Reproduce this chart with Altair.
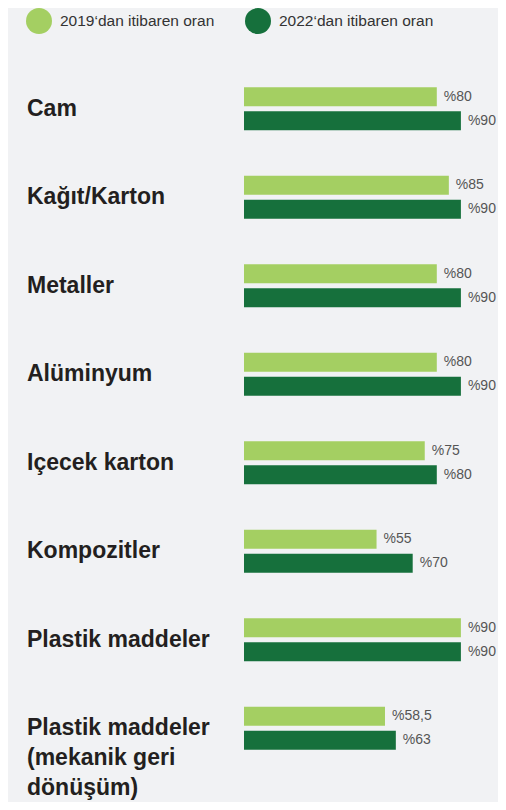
import altair as alt
import pandas as pd

categories = [
    "Cam",
    "Kağıt/Karton",
    "Metaller",
    "Alüminyum",
    "Içecek karton",
    "Kompozitler",
    "Plastik maddeler",
    "Plastik maddeler\n(mekanik geri\ndönüşüm)",
]
series = ["2019‘dan itibaren oran", "2022‘dan itibaren oran"]
values_2019 = [80, 85, 80, 80, 75, 55, 90, 58.5]
values_2022 = [90, 90, 90, 90, 80, 70, 90, 63]

colors = ["#a4cf62", "#16703c"]

rows = []
for c, v1, v2 in zip(categories, values_2019, values_2022):
    for s, v in zip(series, [v1, v2]):
        rows.append({"cat": c, "series": s, "value": v,
                     "label": "%" + f"{v:g}".replace(".", ",")})
df = pd.DataFrame(rows)
cat_df = pd.DataFrame({"cat": categories})

W, H = 490, 794
x_scale = alt.Scale(domain=[0, 100], range=[236, 477])
y_scale = alt.Scale(domain=categories, range=[56.5, 56.5 + 8 * 88.5],
                    paddingInner=0, paddingOuter=0)
yoff_scale = alt.Scale(domain=series, paddingInner=0.208, paddingOuter=0.948)

base = alt.Chart(df)

bars = base.mark_bar(cornerRadius=0).encode(
    x=alt.X("value:Q", scale=x_scale, axis=None),
    y=alt.Y("cat:N", scale=y_scale, axis=None, sort=categories),
    yOffset=alt.YOffset("series:N", scale=yoff_scale, sort=series),
    color=alt.Color(
        "series:N",
        scale=alt.Scale(domain=series, range=colors),
        legend=alt.Legend(
            title=None, orient="none", legendX=18, legendY=0,
            direction="horizontal", symbolType="circle", symbolSize=676,
            symbolStrokeWidth=0, labelFont="Liberation Sans", labelFontSize=15.5,
            labelColor="#333333", labelOffset=8, columnPadding=30, padding=0,
        ),
    ),
)

value_text = base.mark_text(
    align="left", baseline="middle", dx=7, font="Liberation Sans",
    fontSize=14, color="#555555",
).encode(
    x=alt.X("value:Q", scale=x_scale, axis=None),
    y=alt.Y("cat:N", scale=y_scale, axis=None, sort=categories),
    yOffset=alt.YOffset("series:N", scale=yoff_scale, sort=series),
    text="label:N",
)

cat_text = alt.Chart(cat_df).mark_text(
    align="left", baseline="top", dy=-11, font="Liberation Sans",
    fontWeight="bold", fontSize=23, color="#231f20", lineBreak="\n",
    lineHeight=30,
).encode(
    x=alt.value(19),
    y=alt.Y("cat:N", scale=y_scale, axis=None, sort=categories),
    text="cat:N",
)

chart = alt.layer(bars, value_text, cat_text).properties(
    width=W, height=H,
    autosize=alt.AutoSizeParams(type="none"),
    padding=0,
    background="#f1f2f4",
).configure_view(stroke=None)

chart.save("out.html", embed_options={"renderer": "svg", "actions": False})
